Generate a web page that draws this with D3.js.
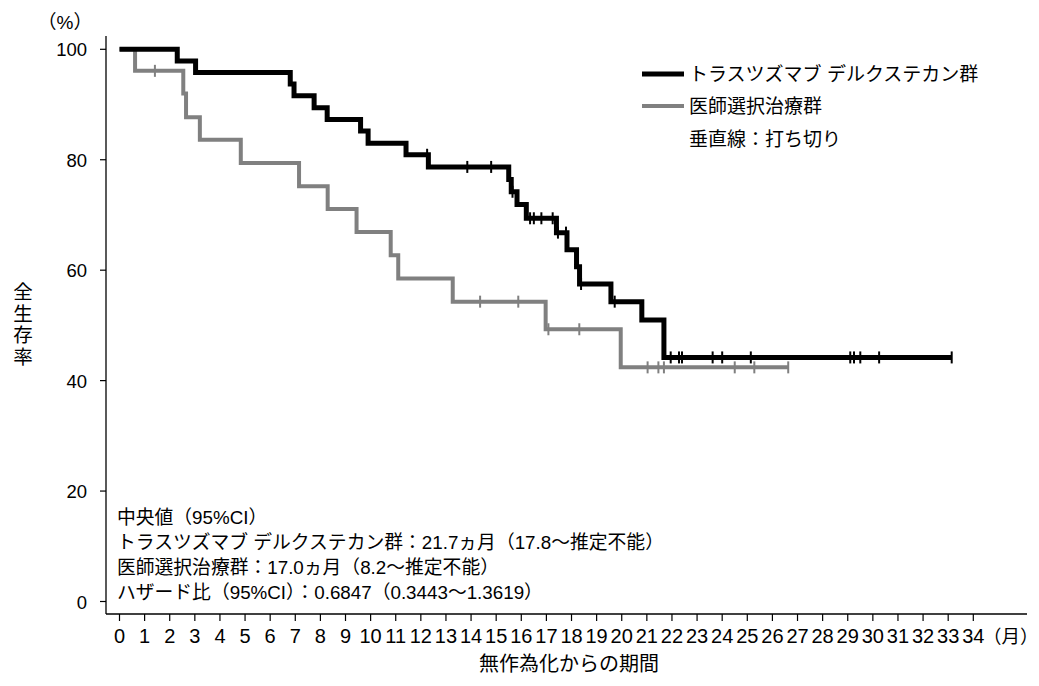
<!DOCTYPE html>
<html>
<head>
<meta charset="utf-8">
<script src="https://cdn.jsdelivr.net/npm/d3@7"></script>
<style>
  body { margin: 0; background: #fff; }
  svg text { font-family: "Liberation Sans", "Noto Sans CJK JP", sans-serif; fill: #000; }
  svg text.narrow { font-family: "Liberation Sans Narrow", "Liberation Sans", sans-serif; }
</style>
</head>
<body>
<svg id="chart" width="1039" height="686"></svg>
<script>
// Kaplan-Meier steps: [month, survival %]
var tdxdSteps = [[0, 100], [2.3, 97.9], [3.03, 95.8], [6.8, 93.7], [6.95, 91.6], [7.75, 89.4],
  [8.27, 87.3], [9.6, 85.2], [9.9, 83.0], [11.41, 80.9], [12.3, 78.7], [15.5, 76.4],
  [15.6, 74.2], [15.83, 71.9], [16.2, 69.4], [17.4, 66.8], [17.82, 63.7], [18.2, 60.6],
  [18.32, 57.5], [19.57, 54.3], [20.8, 51.0], [21.68, 44.2]];
var tdxdCensor = [12.25, 13.85, 14.8, 15.65, 16.35, 16.5, 16.8, 17.25, 17.46, 17.78, 18.38,
  19.72, 21.95, 22.28, 22.4, 23.62, 24.0, 25.14, 29.1, 29.25, 29.5, 30.25, 33.14];

var tpcSteps = [[0, 100], [0.62, 96.1], [2.54, 92.0], [2.65, 87.7], [3.2, 83.6], [4.83, 79.4],
  [7.15, 75.2], [8.29, 71.1], [9.44, 66.9], [10.8, 62.7], [11.1, 58.5], [13.27, 54.3],
  [16.97, 49.3], [19.96, 42.4]];
var tpcCensor = [1.41, 14.36, 15.88, 17.08, 18.31, 21.03, 21.46, 21.68, 24.5, 25.28, 26.63];

var xTicks = d3.range(0, 35);
var yTicks = [0, 20, 40, 60, 80, 100];

var legendLabels = ['トラスツズマブ デルクステカン群', '医師選択治療群', '垂直線：打ち切り'];
var notes = ['中央値（95%CI）',
  'トラスツズマブ デルクステカン群：21.7ヵ月（17.8～推定不能）',
  '医師選択治療群：17.0ヵ月（8.2～推定不能）',
  'ハザード比（95%CI）：0.6847（0.3443～1.3619）'];

var svg = d3.select('#chart');
var x = d3.scaleLinear().domain([0, 34]).range([119.5, 973.3]);
var y = d3.scaleLinear().domain([0, 100]).range([601.5, 49.3]);

var axisX = 106, axisY = 614;

// axes lines
svg.append('line').attr('x1', axisX).attr('x2', axisX).attr('y1', 36).attr('y2', axisY)
  .attr('stroke', '#000').attr('stroke-width', 1.3);
svg.append('line').attr('x1', axisX).attr('x2', 1027).attr('y1', axisY).attr('y2', axisY)
  .attr('stroke', '#000').attr('stroke-width', 1.3);

// y ticks
var yg = svg.append('g');
yg.selectAll('line').data(yTicks).enter().append('line')
  .attr('x1', axisX - 6).attr('x2', axisX)
  .attr('y1', function(d) { return y(d); }).attr('y2', function(d) { return y(d); })
  .attr('stroke', '#000').attr('stroke-width', 1.2);
yg.selectAll('text').data(yTicks).enter().append('text')
  .attr('x', 87).attr('y', function(d) { return y(d) + 7; })
  .attr('text-anchor', 'end').attr('font-size', 18.5).text(function(d) { return d; });

// x ticks
var xg = svg.append('g');
xg.selectAll('line').data(xTicks).enter().append('line')
  .attr('x1', function(d) { return x(d); }).attr('x2', function(d) { return x(d); })
  .attr('y1', axisY).attr('y2', axisY + 7)
  .attr('stroke', '#000').attr('stroke-width', 1.2);
xg.selectAll('text').data(xTicks).enter().append('text')
  .attr('class', 'narrow')
  .attr('x', function(d) { return x(d); }).attr('y', 643)
  .attr('text-anchor', 'middle').attr('font-size', 20).text(function(d) { return d; });

svg.append('text').attr('x', 983).attr('y', 643).attr('font-size', 18.5).text('（月）');
svg.append('text').attr('x', 65).attr('y', 29).attr('text-anchor', 'middle')
  .attr('font-size', 19).text('（%）');
svg.append('text').attr('x', 569).attr('y', 671).attr('text-anchor', 'middle')
  .attr('font-size', 20).text('無作為化からの期間');

// vertical y title
var yTitle = svg.append('text').attr('text-anchor', 'middle').attr('font-size', 19.5);
'全生存率'.split('').forEach(function(c, i) {
  yTitle.append('tspan').attr('x', 23).attr('y', 299 + i * 21.5).text(c);
});

// step curve helper
function stepPath(steps, tEnd) {
  var pts = steps.slice();
  pts.push([tEnd, steps[steps.length - 1][1]]);
  return d3.line().curve(d3.curveStepAfter)
    .x(function(d) { return x(d[0]); })
    .y(function(d) { return y(d[1]); })(pts);
}
function survAt(steps, t) {
  var s = 100;
  steps.forEach(function(d) { if (d[0] <= t) s = d[1]; });
  return s;
}

function drawCurve(steps, censor, color, width) {
  var g = svg.append('g');
  g.append('path').attr('d', stepPath(steps, d3.max(censor)))
    .attr('fill', 'none').attr('stroke', color).attr('stroke-width', width)
    .attr('stroke-linejoin', 'miter').attr('stroke-linecap', 'butt');
  g.selectAll('line').data(censor).enter().append('line')
    .attr('x1', function(d) { return x(d); }).attr('x2', function(d) { return x(d); })
    .attr('y1', function(d) { return y(survAt(steps, d)) - 6; })
    .attr('y2', function(d) { return y(survAt(steps, d)) + 6; })
    .attr('stroke', color).attr('stroke-width', 2);
}

drawCurve(tpcSteps, tpcCensor, '#808080', 4);
drawCurve(tdxdSteps, tdxdCensor, '#000', 5);

// legend
var legColors = ['#000', '#808080'];
var legWidths = [5, 4];
var legY = [74, 106, 139];
legendLabels.forEach(function(t, i) {
  if (i < 2) {
    svg.append('line').attr('x1', 642).attr('x2', 684).attr('y1', legY[i]).attr('y2', legY[i])
      .attr('stroke', legColors[i]).attr('stroke-width', legWidths[i]);
  }
  svg.append('text').attr('x', 689).attr('y', legY[i] + 7).attr('font-size', 19).text(t);
});

// annotation block
notes.forEach(function(t, i) {
  svg.append('text').attr('x', 117).attr('y', 524 + i * 25).attr('font-size', 18.8).text(t);
});
</script>
</body>
</html>
